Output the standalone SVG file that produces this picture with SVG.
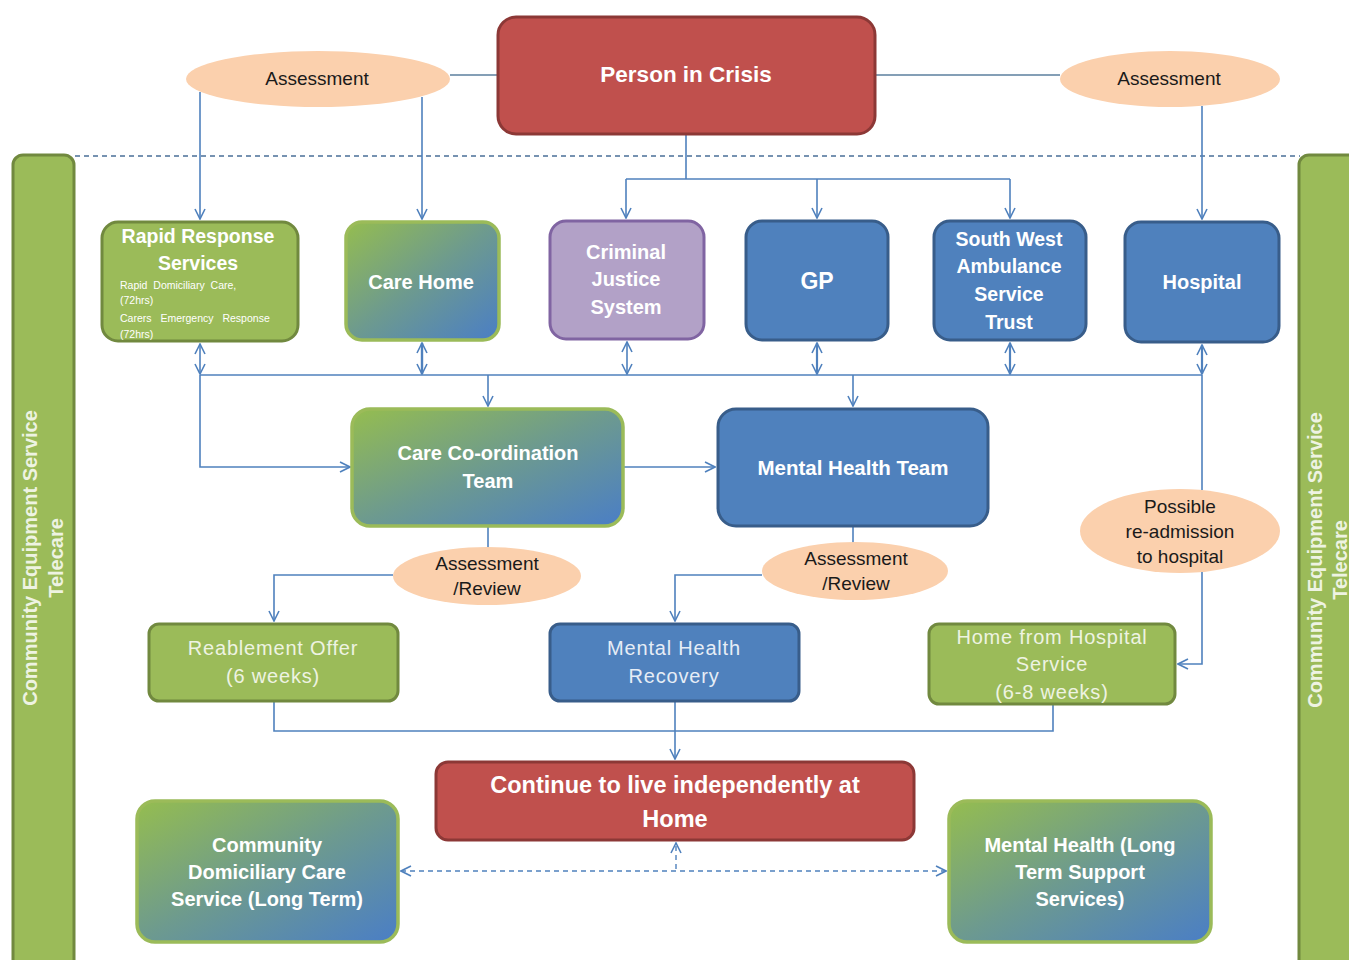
<svg xmlns="http://www.w3.org/2000/svg" width="1349" height="960" viewBox="0 0 1349 960">
<style>
.t{font-family:"Liberation Sans",Arial,sans-serif;fill:#ffffff;text-anchor:middle}
.b{font-weight:bold}
.dk{fill:#1a1a1a}
.lt{fill:#eef3e2}
.sp{letter-spacing:0.8px}
.red{fill:#c0504d;stroke:#8c3836;stroke-width:3}
.grn{fill:#9bbb59;stroke:#71893f;stroke-width:3}
.gra{fill:url(#gb);stroke:#9bbb59;stroke-width:3.5}
.blu{fill:#4f81bd;stroke:#385d8a;stroke-width:3}
.pur{fill:#b2a1c7;stroke:#8064a2;stroke-width:3}
.ell{fill:#fbd0ad;stroke:none}
.c{fill:none;stroke:#4f81bd;stroke-width:1.6}
.d{fill:none;stroke:#4f81bd;stroke-width:1.4;stroke-dasharray:5 4}
.ar{marker-end:url(#ah)}
.ar2{marker-end:url(#ah);marker-start:url(#ah)}
</style>
<defs>
<linearGradient id="gb" x1="0" y1="0" x2="1" y2="1">
<stop offset="0" stop-color="#95bd4f"/>
<stop offset="0.5" stop-color="#6d9a8f"/>
<stop offset="1" stop-color="#4a7ec6"/>
</linearGradient>
<marker id="ah" viewBox="0 0 12 12" refX="11" refY="6" markerWidth="12" markerHeight="12" markerUnits="userSpaceOnUse" orient="auto-start-reverse">
<path d="M1,1 L11,6 L1,11" fill="none" stroke="#4f81bd" stroke-width="1.6"/>
</marker>
</defs>
<rect width="1349" height="960" fill="#ffffff"/>

<g id="connectors">
<line x1="75" y1="156" x2="1300" y2="156" class="d" style="stroke:#4a6f98"/>
<line x1="450" y1="75" x2="498" y2="75" class="c" style="stroke:#5b7f9e"/>
<line x1="875" y1="75" x2="1060" y2="75" class="c" style="stroke:#5b7f9e"/>
<path d="M200,92 V219" class="c ar"/>
<path d="M422,97 V219" class="c ar"/>
<path d="M1202,106 V219" class="c ar"/>
<path d="M686,135 V179" class="c"/>
<path d="M626,179 H1010" class="c"/>
<path d="M626,179 V218" class="c ar"/>
<path d="M817,179 V218" class="c ar"/>
<path d="M1010,179 V218" class="c ar"/>
<path d="M200,375 H1202" class="c"/>
<path d="M200,344 V374" class="c ar2"/>
<path d="M422,343 V374" class="c ar2" style="stroke-width:2.4"/>
<path d="M627,342 V374" class="c ar2"/>
<path d="M817,343 V374" class="c ar2" style="stroke-width:2.2"/>
<path d="M1010,343 V374" class="c ar2" style="stroke-width:2.2"/>
<path d="M1202,345 V374" class="c ar2" style="stroke-width:2.2"/>
<path d="M488,375 V406" class="c ar"/>
<path d="M853,375 V406" class="c ar"/>
<path d="M200,375 V467 H350" class="c ar"/>
<path d="M623,467 H715" class="c ar"/>
<path d="M1202,375 V490" class="c"/>
<path d="M1202,572 V664 H1178" class="c ar"/>
<path d="M488,527 V548" class="c"/>
<path d="M393,575 H274 V621" class="c ar"/>
<path d="M853,527 V543" class="c"/>
<path d="M762,575 H675 V621" class="c ar"/>
<path d="M274,702 V731 H1053 V705" class="c"/>
<path d="M675,702 V759" class="c ar"/>
<path d="M676,869 V843" class="d" marker-end="url(#ah)"/>
<path d="M401,871 H946" class="d" marker-end="url(#ah)" marker-start="url(#ah)"/>
</g>

<g id="sidebar-left">
<rect x="13" y="155" width="61" height="820" rx="10" class="grn"/>
<text class="t b lt" font-size="20" transform="translate(37,558) rotate(-90)">Community Equipment Service</text>
<text class="t b lt" font-size="20" transform="translate(63,558) rotate(-90)">Telecare</text>
</g>
<g id="sidebar-right">
<rect x="1299" y="155" width="70" height="820" rx="10" class="grn"/>
<text class="t b lt" font-size="20" transform="translate(1322,560) rotate(-90)">Community Equipment Service</text>
<text class="t b lt" font-size="20" transform="translate(1347,560) rotate(-90)">Telecare</text>
</g>

<g id="person-in-crisis">
<rect x="498" y="17" width="377" height="117" rx="18" class="red"/>
<text x="686" y="82" class="t b" font-size="22.5">Person in Crisis</text>
</g>
<g id="assessment-left">
<ellipse cx="318" cy="79" rx="132" ry="28" class="ell"/>
<text x="317" y="85" class="t dk" font-size="19">Assessment</text>
</g>
<g id="assessment-right">
<ellipse cx="1170" cy="79" rx="110" ry="28" class="ell"/>
<text x="1169" y="85" class="t dk" font-size="19">Assessment</text>
</g>

<g id="rapid-response">
<rect x="102" y="222" width="196" height="119" rx="16" class="grn"/>
<text x="198" y="243" class="t b" font-size="19.5">Rapid Response</text>
<text x="198" y="270" class="t b" font-size="19.5">Services</text>
<text x="120" y="289" class="t" font-size="10.5" style="text-anchor:start" word-spacing="3">Rapid Domiciliary Care,</text>
<text x="120" y="304" class="t" font-size="10.5" style="text-anchor:start">(72hrs)</text>
<text x="120" y="322" class="t" font-size="10.5" style="text-anchor:start" word-spacing="6">Carers Emergency Response</text>
<text x="120" y="338" class="t" font-size="10.5" style="text-anchor:start">(72hrs)</text>
</g>
<g id="care-home">
<rect x="346" y="222" width="153" height="118" rx="16" class="gra"/>
<text x="421" y="289" class="t b" font-size="20">Care Home</text>
</g>
<g id="criminal-justice">
<rect x="550" y="221" width="154" height="118" rx="16" class="pur"/>
<text x="626" y="259" class="t b" font-size="20">Criminal</text>
<text x="626" y="286" class="t b" font-size="20">Justice</text>
<text x="626" y="314" class="t b" font-size="20">System</text>
</g>
<g id="gp">
<rect x="746" y="221" width="142" height="119" rx="16" class="blu"/>
<text x="817" y="289" class="t b" font-size="23">GP</text>
</g>
<g id="swast">
<rect x="934" y="221" width="152" height="119" rx="16" class="blu"/>
<text x="1009" y="246" class="t b" font-size="19.5">South West</text>
<text x="1009" y="273" class="t b" font-size="19.5">Ambulance</text>
<text x="1009" y="301" class="t b" font-size="19.5">Service</text>
<text x="1009" y="329" class="t b" font-size="19.5">Trust</text>
</g>
<g id="hospital">
<rect x="1125" y="222" width="154" height="120" rx="16" class="blu"/>
<text x="1202" y="289" class="t b" font-size="20">Hospital</text>
</g>

<g id="care-coordination">
<rect x="352" y="409" width="271" height="117" rx="18" class="gra"/>
<text x="488" y="460" class="t b" font-size="20">Care Co-ordination</text>
<text x="488" y="488" class="t b" font-size="20">Team</text>
</g>
<g id="mental-health-team">
<rect x="718" y="409" width="270" height="117" rx="18" class="blu"/>
<text x="853" y="475" class="t b" font-size="20.5">Mental Health Team</text>
</g>

<g id="assessment-review-1">
<ellipse cx="487" cy="576" rx="94" ry="29" class="ell"/>
<text x="487" y="570" class="t dk" font-size="19">Assessment</text>
<text x="487" y="595" class="t dk" font-size="19">/Review</text>
</g>
<g id="assessment-review-2">
<ellipse cx="855" cy="571" rx="93" ry="29" class="ell"/>
<text x="856" y="565" class="t dk" font-size="19">Assessment</text>
<text x="856" y="590" class="t dk" font-size="19">/Review</text>
</g>
<g id="possible-readmission">
<ellipse cx="1180" cy="531" rx="100" ry="42" class="ell"/>
<text x="1180" y="513" class="t dk" font-size="19">Possible</text>
<text x="1180" y="538" class="t dk" font-size="19">re-admission</text>
<text x="1180" y="563" class="t dk" font-size="19">to hospital</text>
</g>

<g id="reablement">
<rect x="149" y="624" width="249" height="77" rx="10" class="grn"/>
<text x="273" y="655" class="t lt sp" font-size="20">Reablement Offer</text>
<text x="273" y="683" class="t lt sp" font-size="20">(6 weeks)</text>
</g>
<g id="mh-recovery">
<rect x="550" y="624" width="249" height="77" rx="10" class="blu"/>
<text x="674" y="655" class="t sp" font-size="20" style="fill:#e6edf6">Mental Health</text>
<text x="674" y="683" class="t sp" font-size="20" style="fill:#e6edf6">Recovery</text>
</g>
<g id="home-from-hospital">
<rect x="929" y="624" width="246" height="80" rx="10" class="grn"/>
<text x="1052" y="644" class="t lt sp" font-size="20">Home from Hospital</text>
<text x="1052" y="671" class="t lt sp" font-size="20">Service</text>
<text x="1052" y="699" class="t lt sp" font-size="20">(6-8 weeks)</text>
</g>

<g id="continue-home">
<rect x="436" y="762" width="478" height="78" rx="12" class="red"/>
<text x="675" y="793" class="t b" font-size="23.5">Continue to live independently at</text>
<text x="675" y="827" class="t b" font-size="23.5">Home</text>
</g>
<g id="community-domiciliary">
<rect x="137" y="801" width="261" height="141" rx="18" class="gra"/>
<text x="267" y="852" class="t b" font-size="20">Community</text>
<text x="267" y="879" class="t b" font-size="20">Domiciliary Care</text>
<text x="267" y="906" class="t b" font-size="20">Service (Long Term)</text>
</g>
<g id="mh-long-term">
<rect x="949" y="801" width="262" height="141" rx="18" class="gra"/>
<text x="1080" y="852" class="t b" font-size="20">Mental Health (Long</text>
<text x="1080" y="879" class="t b" font-size="20">Term Support</text>
<text x="1080" y="906" class="t b" font-size="20">Services)</text>
</g>
</svg>
